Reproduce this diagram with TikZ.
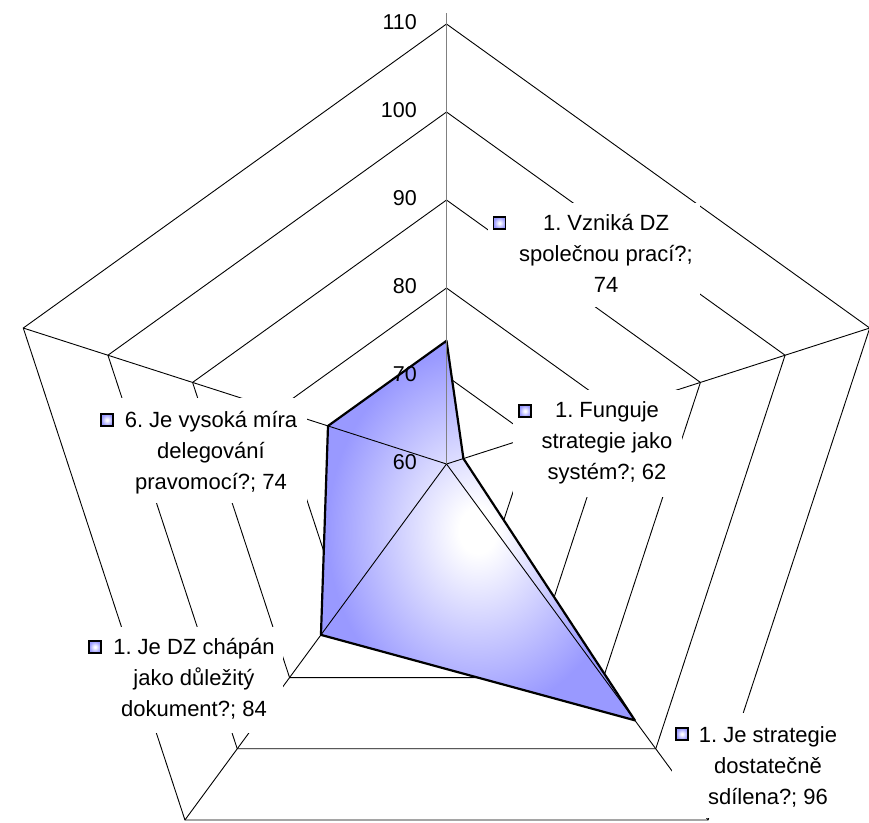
\documentclass[tikz,border=0pt]{standalone}
\usepackage{fontspec}
\setmainfont{Liberation Sans}
\definecolor{dzblue}{HTML}{9999FF}
\definecolor{axisgray}{HTML}{808080}
% white centre fading to blue at the edge of the shaded path's bounding box
\pgfdeclareradialshading{dzfill}{\pgfpoint{0bp}{0bp}}{color(0bp)=(white); color(3bp)=(white); color(24bp)=(dzblue); color(50bp)=(dzblue)}
% named point of the radar net: name #1, value #2 on the spoke at angle #3 (centre = 60)
\newcommand\netpoint[3]{\coordinate (#1) at ({446.5+(#2-60)*8.9*cos(#3)},{464-(#2-60)*8.8*sin(#3)});}
\begin{document}
\begin{tikzpicture}[x=1pt,y=-1pt,
  ring/.style={line width=0.9pt,black},
  spoke/.style={line width=0.9pt,black},
  valaxis/.style={line width=1.4pt,axisgray},
  outline/.style={line width=2.2pt,black,line join=round},
  scalelabel/.style={anchor=east,inner sep=0pt,font=\fontsize{21.5}{25}\selectfont},
  datalabel/.style={align=center,inner sep=0pt,font=\fontsize{22}{31}\selectfont\frenchspacing},
  keybox/.style={minimum size=12pt,inner sep=0pt,draw=black,line width=1.5pt,shade,shading=dzfill},
  labelbg/.style={fill=white}]
\useasboundingbox (0,0) rectangle (869,822);

% centre and net points
\coordinate (c) at (446.5,464);
\coordinate (axtop) at (446.5,13);
\foreach \v in {70,80,90,100,110}{
  \foreach \a [count=\i] in {90,18,-54,-126,162}{
    \netpoint{r\v-\i}{\v}{\a}
  }
}

% pentagonal grid rings
\foreach \v in {70,80,90,100,110}
  \draw[ring] (r\v-1) -- (r\v-2) -- (r\v-3) -- (r\v-4) -- (r\v-5) -- cycle;

% data series
\netpoint{d1}{74}{90}
\netpoint{d2}{62}{18}
\netpoint{d3}{96}{-54}
\netpoint{d4}{84}{-126}
\netpoint{d5}{74}{162}
\fill[shade,shading=dzfill] (d1) -- (d2) -- (d3) -- (d4) -- (d5) -- cycle;
\draw[outline] (d1) -- (d2) -- (d3) -- (d4) -- (d5) -- cycle;

% spokes and value axis
\draw[spoke] (c) -- (r110-2);
\draw[spoke] (c) -- (r110-3);
\draw[spoke] (c) -- (r110-4);
\draw[spoke] (c) -- (r110-5);
\draw[valaxis] (c) -- (axtop);

% scale labels
\foreach \v in {60,70,80,90,100,110}
  \node[scalelabel] (s\v) at (417,{462.5-(\v-60)*8.8}) {\v};

% label backgrounds
\fill[labelbg] (488,203) rectangle (700,307);
\fill[labelbg] (513,390) rectangle (682,497);
\fill[labelbg] (95,398) rectangle (307,503);
\fill[labelbg] (85,627) rectangle (283,733);
\fill[labelbg] (672,713) rectangle (855,818);

% data labels with legend keys
\node[keybox] (k1) at (499.5,223) {};
\node[datalabel] (lab1) at (606,254.8) {\strut 1. Vzniká DZ\\\strut společnou prací?;\\\strut 74};
\node[keybox] (k2) at (525,411) {};
\node[datalabel] (lab2) at (607,441.8) {\strut 1. Funguje\\\strut strategie jako\\\strut systém?; 62};
\node[keybox] (k3) at (107,420) {};
\node[datalabel] (lab3) at (211,451.8) {\strut 6. Je vysoká míra\\\strut delegování\\\strut pravomocí?; 74};
\node[keybox] (k4) at (95,647) {};
\node[datalabel] (lab4) at (194,678.8) {\strut 1. Je DZ chápán\\\strut jako důležitý\\\strut dokument?; 84};
\node[keybox] (k5) at (682,734) {};
\node[datalabel] (lab5) at (768,766.8) {\strut 1. Je strategie\\\strut dostatečně\\\strut sdílena?; 96};
\end{tikzpicture}
\end{document}
